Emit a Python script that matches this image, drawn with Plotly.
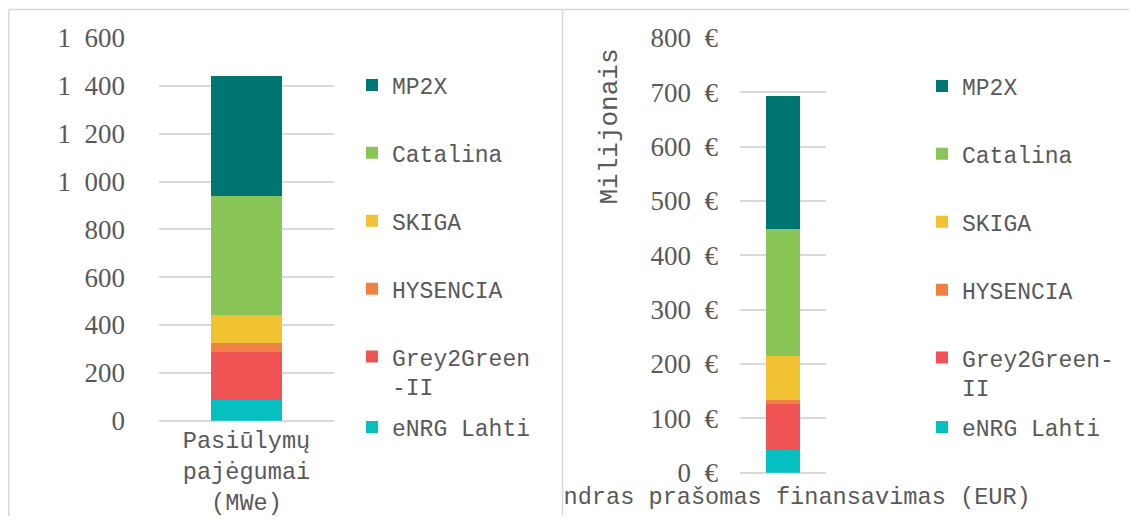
import plotly.graph_objects as go

# ---------------- data ----------------
series = ["eNRG Lahti", "Grey2Green-II", "HYSENCIA", "SKIGA", "Catalina", "MP2X"]
legend_names_left = ["eNRG Lahti", "Grey2Green<br>-II", "HYSENCIA", "SKIGA", "Catalina", "MP2X"]
legend_names_right = ["eNRG Lahti", "Grey2Green-<br>II", "HYSENCIA", "SKIGA", "Catalina", "MP2X"]
colors = ["#05BFC0", "#EF5353", "#EF8242", "#F1C232", "#89C557", "#007672"]

category_left = ["Pasiūlymų<br>pajėgumai<br>(MWe)"]
category_right = ["Bendras prašomas finansavimas (EUR)"]

capacity_mwe = [88, 200, 37, 116, 500, 500]       # MWe
funding_meur = [42, 85, 7, 81, 233, 245]          # million EUR

left_tickvals = [0, 200, 400, 600, 800, 1000, 1200, 1400, 1600]
left_ticktext = ["0", "200", "400", "600", "800",
                 "1\u2002000", "1\u2002200", "1\u2002400", "1\u2002600"]
right_tickvals = [0, 100, 200, 300, 400, 500, 600, 700, 800]
right_ticktext = ["0\u2002€", "100\u2002€", "200\u2002€", "300\u2002€", "400\u2002€",
                  "500\u2002€", "600\u2002€", "700\u2002€", "800\u2002€"]
right_axis_title = "Milijonais"

# ---------------- layout helpers ----------------
PAGE_W, PAGE_H = 1137, 524
BODY = 8                      # default page margin around the plot div
W, H = PAGE_W - 2 * BODY, PAGE_H - 2 * BODY
def fx(px):                   # page pixel -> paper fraction
    return (px - BODY) / W
def fy(py):
    return 1 - (py - BODY) / H

GREY_TXT = "#595959"
GRID = "#D9D9D9"
MONO = "Liberation Mono, Courier New, monospace"
SERIF = "Liberation Serif, Times New Roman, serif"

fig = go.Figure()

n = len(series)
for i, name in enumerate(series):
    fig.add_trace(go.Bar(
        x=category_left, y=[capacity_mwe[i]], name=legend_names_left[i],
        marker=dict(color=colors[i], line=dict(width=0)),
        xaxis="x", yaxis="y", legend=("legend2" if i == 0 else "legend"),
        legendgroup="L" + name, legendrank=100 * (n - i),
        hovertemplate=name + ": %{y} MWe<extra></extra>",
    ))
for i, name in enumerate(series):
    fig.add_trace(go.Bar(
        x=category_right, y=[funding_meur[i]], name=legend_names_right[i],
        marker=dict(color=colors[i], line=dict(width=0)),
        xaxis="x2", yaxis="y2", legend=("legend4" if i == 0 else "legend3"),
        legendgroup="R" + name, legendrank=100 * (n - i),
        hovertemplate=name + ": %{y} mln €<extra></extra>",
    ))

legend_common = dict(
    font=dict(family=MONO, size=23, color=GREY_TXT),
    bgcolor="rgba(0,0,0,0)", borderwidth=0,
    traceorder="grouped", tracegroupgap=35,
    valign="top", xanchor="left", yanchor="top",
)

axis_x_common = dict(
    type="category", range=[-0.5, 0.5], showgrid=False, zeroline=False,
    showline=False, ticks="", tickfont=dict(family=MONO, size=23.6, color=GREY_TXT),
    fixedrange=True, automargin=False,
)
axis_y_common = dict(
    showgrid=True, gridcolor=GRID, gridwidth=1.5,
    zeroline=True, zerolinecolor=GRID, zerolinewidth=1.5,
    showline=False, ticks="", tickfont=dict(family=SERIF, size=27, color=GREY_TXT),
    tickmode="array", fixedrange=True, automargin=False,
)

fig.update_layout(
    width=W, height=H,
    margin=dict(l=0, r=0, t=0, b=0, autoexpand=False),
    paper_bgcolor="white", plot_bgcolor="white",
    barmode="stack", bargap=0.594,
    xaxis=dict(domain=[fx(159), fx(334)], anchor="y", ticklabelstandoff=3, **axis_x_common),
    yaxis=dict(domain=[fy(420.7), fy(38)], anchor="x", range=[0, 1600],
               tickvals=left_tickvals, ticktext=left_ticktext,
               ticklabelstandoff=33, **axis_y_common),
    xaxis2=dict(domain=[fx(740), fx(826)], anchor="y2", ticklabelstandoff=7, **axis_x_common),
    yaxis2=dict(domain=[fy(472.7), fy(38)], anchor="x2", range=[0, 800],
                tickvals=right_tickvals, ticktext=right_ticktext,
                ticklabelstandoff=21, **axis_y_common),
    legend=dict(x=fx(352), y=fy(63.5), **legend_common),
    legend2=dict(x=fx(352), y=fy(405.5), **legend_common),
    legend3=dict(x=fx(922), y=fy(64.5), **legend_common),
    legend4=dict(x=fx(922), y=fy(405.5), **legend_common),
    annotations=[dict(
        text=right_axis_title, x=fx(609), y=fy(126.5), xref="paper", yref="paper",
        textangle=-90, showarrow=False, xanchor="center", yanchor="middle",
        font=dict(family=MONO, size=26, color=GREY_TXT),
    )],
    shapes=[
        # clip the overflowing category label of the right panel
        dict(type="rect", xref="paper", yref="paper", x0=fx(500), x1=fx(562.5),
             y0=fy(516), y1=fy(482), fillcolor="white", line=dict(width=0), layer="above"),
        # panel frames
        dict(type="line", xref="paper", yref="paper", x0=fx(8.75), x1=1, y0=fy(9.5), y1=fy(9.5),
             line=dict(color=GRID, width=1.5), layer="above"),
        dict(type="line", xref="paper", yref="paper", x0=fx(8.75), x1=fx(8.75), y0=fy(9.5), y1=0,
             line=dict(color=GRID, width=1.5), layer="above"),
        dict(type="line", xref="paper", yref="paper", x0=fx(562.5), x1=fx(562.5), y0=fy(9.5), y1=0,
             line=dict(color=GRID, width=1.5), layer="above"),
    ],
)

fig.write_html("out.html")
